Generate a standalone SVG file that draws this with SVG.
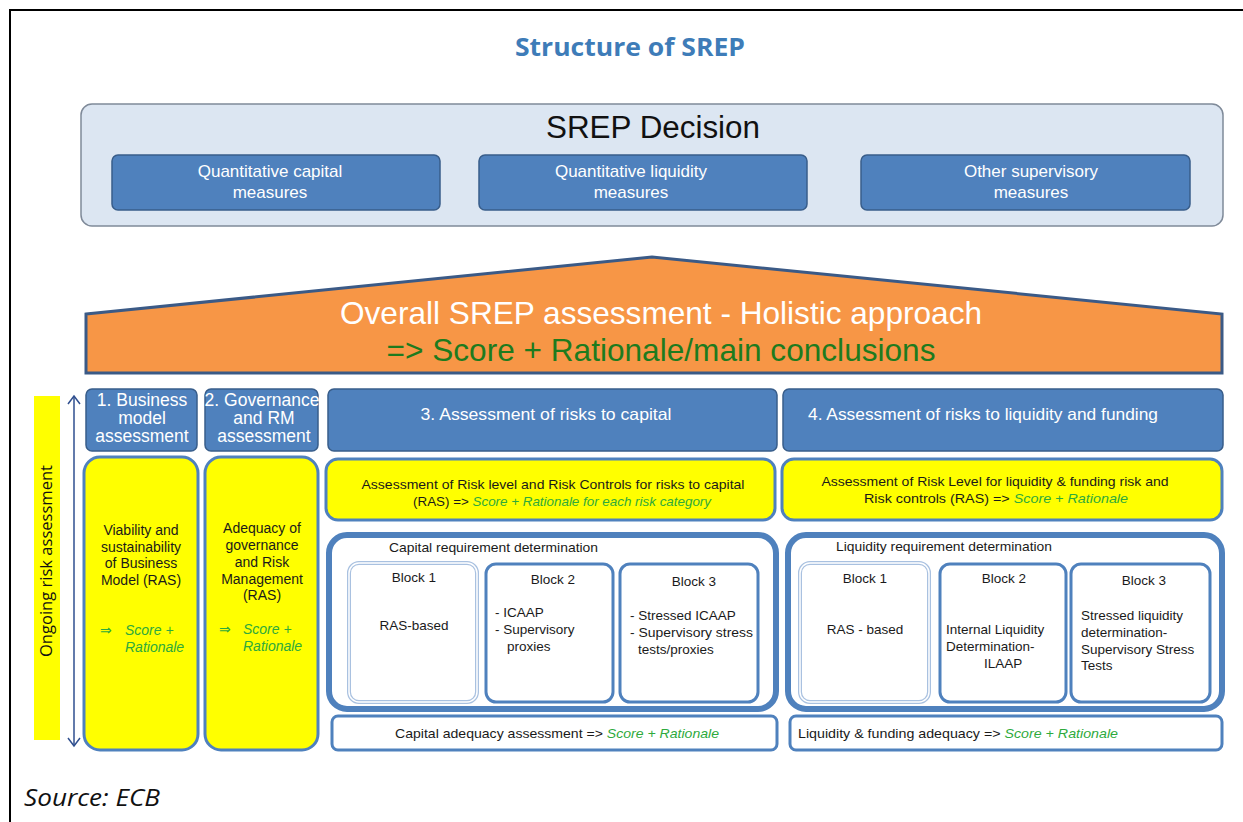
<svg xmlns="http://www.w3.org/2000/svg" width="1243" height="822" viewBox="0 0 1243 822">
<defs>
<style>
.t{font-family:"Liberation Sans",Arial,sans-serif;}
.w{fill:#ffffff;}
.k{fill:#1a1a1a;}
.g{fill:#2eaa3c;font-style:italic;}
.hdr{fill:#4f81bd;stroke:#385d8a;stroke-width:1.5;}
.yel{fill:#ffff00;stroke:#4f81bd;stroke-width:3;}
.blk{fill:#ffffff;stroke:#4f81bd;stroke-width:3;}
.big{fill:#ffffff;stroke:#4f81bd;stroke-width:6;}
.ah{fill:none;stroke:#2f4f8f;stroke-width:1.5;}
</style>
</defs>
<rect width="1243" height="822" fill="#ffffff"/>
<path d="M10,822 V10 H1243" fill="none" stroke="#000" stroke-width="2"/>

<text x="630" y="56" text-anchor="middle" font-family="'Open Sans','Noto Sans',sans-serif" font-weight="bold" font-size="25" textLength="230" lengthAdjust="spacingAndGlyphs" fill="#3e7cb8">Structure of SREP</text>

<g id="srep-decision">
<rect x="81" y="104" width="1142" height="122" rx="11" fill="#dce6f2" stroke="#7f8a99" stroke-width="1.5"/>
<text class="t" x="653" y="138" text-anchor="middle" font-size="31" textLength="214" lengthAdjust="spacingAndGlyphs" fill="#111">SREP Decision</text>
</g>
<g id="capital-measures">
<rect class="hdr" x="112" y="155" width="328" height="55" rx="6"/>
<text class="t w" x="270" y="177" text-anchor="middle" font-size="17">Quantitative capital</text>
<text class="t w" x="270" y="198" text-anchor="middle" font-size="17">measures</text>
</g>
<g id="liquidity-measures">
<rect class="hdr" x="479" y="155" width="328" height="55" rx="6"/>
<text class="t w" x="631" y="177" text-anchor="middle" font-size="17">Quantitative liquidity</text>
<text class="t w" x="631" y="198" text-anchor="middle" font-size="17">measures</text>
</g>
<g id="other-measures">
<rect class="hdr" x="861" y="155" width="329" height="55" rx="6"/>
<text class="t w" x="1031" y="177" text-anchor="middle" font-size="17">Other supervisory</text>
<text class="t w" x="1031" y="198" text-anchor="middle" font-size="17">measures</text>
</g>

<g id="overall">
<polygon points="86,314 652,257 1222,314 1222,373 86,373" fill="#f79646" stroke="#3b5a86" stroke-width="3" stroke-linejoin="miter"/>
<text class="t w" x="661" y="324" text-anchor="middle" font-size="31.5" textLength="642" lengthAdjust="spacingAndGlyphs">Overall SREP assessment - Holistic approach</text>
<text class="t" x="661" y="361" text-anchor="middle" font-size="31.5" textLength="549" lengthAdjust="spacingAndGlyphs" fill="#1e7b1e">=&gt; Score + Rationale/main conclusions</text>
</g>

<g id="ongoing">
<rect x="34" y="396" width="26" height="344" fill="#ffff00"/>
<text x="0" y="0" transform="translate(52,561) rotate(-90)" text-anchor="middle" font-family="'Open Sans','Noto Sans',sans-serif" font-size="17" textLength="192" lengthAdjust="spacingAndGlyphs" fill="#111">Ongoing risk assessment</text>
</g>

<g id="h1">
<rect class="hdr" x="86" y="389" width="111" height="62" rx="6"/>
<text class="t w" x="142" y="406" text-anchor="middle" font-size="17.5">1. Business</text>
<text class="t w" x="142" y="424" text-anchor="middle" font-size="17.5">model</text>
<text class="t w" x="142" y="442" text-anchor="middle" font-size="17.5">assessment</text>
</g>
<g id="h2">
<rect class="hdr" x="205" y="389" width="113" height="62" rx="6"/>
<text class="t w" x="262" y="406" text-anchor="middle" font-size="17.5">2. Governance</text>
<text class="t w" x="264" y="424" text-anchor="middle" font-size="17.5">and RM</text>
<text class="t w" x="264" y="442" text-anchor="middle" font-size="17.5">assessment</text>
</g>
<g id="h3">
<rect class="hdr" x="328" y="389" width="449" height="62" rx="6"/>
<text class="t w" x="546" y="420" text-anchor="middle" font-size="16.5" textLength="251" lengthAdjust="spacingAndGlyphs">3. Assessment of risks to capital</text>
</g>
<g id="h4">
<rect class="hdr" x="783" y="389" width="440" height="62" rx="6"/>
<text class="t w" x="983" y="420" text-anchor="middle" font-size="16.5" textLength="350" lengthAdjust="spacingAndGlyphs">4. Assessment of risks to liquidity and funding</text>
</g>

<g id="business-model">
<rect class="yel" x="84" y="457" width="114" height="293" rx="16"/>
<g class="t k" font-size="14" text-anchor="middle">
<text x="141" y="535">Viability and</text>
<text x="141" y="552">sustainability</text>
<text x="141" y="568">of Business</text>
<text x="141" y="585">Model (RAS)</text>
</g>
<text class="t" x="100" y="635" font-size="14" fill="#2eaa3c">⇒</text>
<text class="t g" x="125" y="635" font-size="14">Score +</text>
<text class="t g" x="125" y="652" font-size="14">Rationale</text>
</g>
<g id="governance">
<rect class="yel" x="205" y="457" width="113" height="293" rx="16"/>
<g class="t k" font-size="14" text-anchor="middle">
<text x="262" y="533">Adequacy of</text>
<text x="262" y="550">governance</text>
<text x="262" y="567">and Risk</text>
<text x="262" y="584">Management</text>
<text x="262" y="600">(RAS)</text>
</g>
<text class="t" x="219" y="634" font-size="14" fill="#2eaa3c">⇒</text>
<text class="t g" x="243" y="634" font-size="14">Score +</text>
<text class="t g" x="243" y="651" font-size="14">Rationale</text>
</g>

<g id="ras-capital">
<rect class="yel" x="326" y="459" width="449" height="61" rx="12"/>
<text class="t k" x="553" y="489" text-anchor="middle" font-size="13" textLength="383" lengthAdjust="spacingAndGlyphs">Assessment  of Risk level  and Risk Controls  for risks to capital</text>
<text class="t" x="562" y="506" text-anchor="middle" font-size="13" textLength="298" lengthAdjust="spacingAndGlyphs"><tspan class="k">(RAS) =&gt; </tspan><tspan class="g">Score + Rationale for  each risk category</tspan></text>
</g>
<g id="ras-liquidity">
<rect class="yel" x="782" y="459" width="440" height="61" rx="12"/>
<text class="t k" x="995" y="486" text-anchor="middle" font-size="13" textLength="347" lengthAdjust="spacingAndGlyphs">Assessment  of Risk Level for liquidity &amp; funding risk and</text>
<text class="t" x="996" y="503" text-anchor="middle" font-size="13" textLength="264" lengthAdjust="spacingAndGlyphs"><tspan class="k">Risk controls (RAS)  =&gt; </tspan><tspan class="g">Score + Rationale</tspan></text>
</g>

<g id="capital-req">
<rect class="big" x="329" y="535" width="447" height="174" rx="18"/>
<text class="t k" x="389" y="552" font-size="13" textLength="209" lengthAdjust="spacingAndGlyphs">Capital  requirement  determination</text>
</g>
<g id="cap-block1">
<rect x="349" y="563" width="128" height="139" rx="10" fill="#fff" stroke="#a9c1e0" stroke-width="4"/>
<rect x="349" y="563" width="128" height="139" rx="10" fill="none" stroke="#ffffff" stroke-width="1.5"/>
<text class="t k" x="414" y="582" text-anchor="middle" font-size="13.5">Block 1</text>
<text class="t k" x="414" y="630" text-anchor="middle" font-size="13.5">RAS-based</text>
</g>
<g id="cap-block2">
<rect class="blk" x="486" y="564" width="127" height="138" rx="10"/>
<text class="t k" x="553" y="584" text-anchor="middle" font-size="13.5">Block 2</text>
<text class="t k" x="495" y="617" font-size="13.5">- ICAAP</text>
<text class="t k" x="495" y="634" font-size="13.5">- Supervisory</text>
<text class="t k" x="507" y="651" font-size="13.5">proxies</text>
</g>
<g id="cap-block3">
<rect class="blk" x="620" y="564" width="138" height="138" rx="10"/>
<text class="t k" x="694" y="586" text-anchor="middle" font-size="13.5">Block 3</text>
<text class="t k" x="630" y="620" font-size="13.5">- Stressed ICAAP</text>
<text class="t k" x="630" y="637" font-size="13.5" textLength="123" lengthAdjust="spacingAndGlyphs">- Supervisory stress</text>
<text class="t k" x="638" y="654" font-size="13.5">tests/proxies</text>
</g>

<g id="liquidity-req">
<rect class="big" x="788" y="535" width="434" height="174" rx="18"/>
<text class="t k" x="836" y="551" font-size="13" textLength="216" lengthAdjust="spacingAndGlyphs">Liquidity requirement  determination</text>
</g>
<g id="liq-block1">
<rect x="800" y="563" width="129" height="139" rx="10" fill="#fff" stroke="#a9c1e0" stroke-width="4"/>
<rect x="800" y="563" width="129" height="139" rx="10" fill="none" stroke="#ffffff" stroke-width="1.5"/>
<text class="t k" x="865" y="583" text-anchor="middle" font-size="13.5">Block 1</text>
<text class="t k" x="865" y="634" text-anchor="middle" font-size="13.5">RAS - based</text>
</g>
<g id="liq-block2">
<rect class="blk" x="940" y="564" width="126" height="138" rx="10"/>
<text class="t k" x="1004" y="583" text-anchor="middle" font-size="13.5">Block 2</text>
<text class="t k" x="946" y="634" font-size="13.5">Internal Liquidity</text>
<text class="t k" x="946" y="651" font-size="13.5">Determination-</text>
<text class="t k" x="984" y="668" font-size="13.5">ILAAP</text>
</g>
<g id="liq-block3">
<rect class="blk" x="1071" y="564" width="139" height="138" rx="10"/>
<text class="t k" x="1144" y="585" text-anchor="middle" font-size="13.5">Block 3</text>
<text class="t k" x="1081" y="620" font-size="13.5">Stressed liquidity</text>
<text class="t k" x="1081" y="637" font-size="13.5">determination-</text>
<text class="t k" x="1081" y="654" font-size="13.5">Supervisory Stress</text>
<text class="t k" x="1081" y="670" font-size="13.5">Tests</text>
</g>

<g id="capital-adequacy">
<rect class="blk" x="332" y="716" width="445" height="34" rx="6"/>
<text class="t" x="557" y="738" text-anchor="middle" font-size="13" textLength="324" lengthAdjust="spacingAndGlyphs"><tspan class="k">Capital  adequacy  assessment  =&gt; </tspan><tspan class="g">Score + Rationale</tspan></text>
</g>
<g id="liquidity-adequacy">
<rect class="blk" x="790" y="716" width="432" height="34" rx="6"/>
<text class="t" x="798" y="738" font-size="13" textLength="320" lengthAdjust="spacingAndGlyphs"><tspan class="k">Liquidity &amp; funding adequacy =&gt;  </tspan><tspan class="g">Score + Rationale</tspan></text>
</g>

<g id="connectors">
<line x1="74" y1="396" x2="74" y2="746" stroke="#2f4f8f" stroke-width="1.5"/>
<polyline class="ah" points="68,404 74,396 80,404"/>
<polyline class="ah" points="68,738 74,746 80,738"/>
</g>

<text x="24" y="806" font-family="'Open Sans','Noto Sans',sans-serif" font-style="italic" font-size="24" textLength="136" lengthAdjust="spacingAndGlyphs" fill="#111">Source: ECB</text>
</svg>
